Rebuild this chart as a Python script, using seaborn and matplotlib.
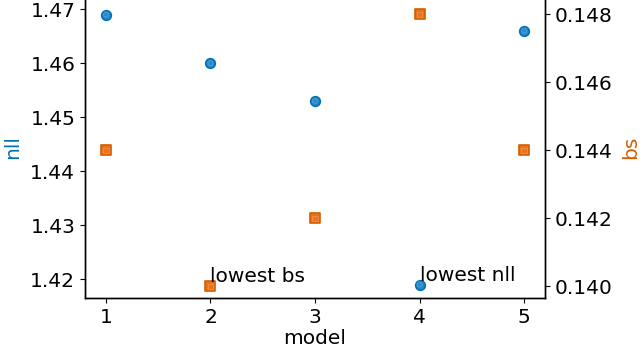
import matplotlib
matplotlib.use("Agg")
import matplotlib.pyplot as plt
import seaborn as sns
import pandas as pd

models = [1, 2, 3, 4, 5]
nll = [1.469, 1.460, 1.453, 1.419, 1.466]
bs = [0.144, 0.140, 0.142, 0.148, 0.144]
nll_ticks = [1.42, 1.43, 1.44, 1.45, 1.46, 1.47]
bs_ticks = [0.140, 0.142, 0.144, 0.146, 0.148]

sns.set_style("ticks")
plt.rcParams['font.family'] = ['DejaVu Sans']
plt.rcParams['text.color'] = 'black'
plt.rcParams['axes.labelcolor'] = 'black'
plt.rcParams['xtick.color'] = 'black'
plt.rcParams['ytick.color'] = 'black'

blue = "#0173B2"
orange = "#D55E00"

df = pd.DataFrame({"model": models, "nll": nll, "bs": bs})

fig = plt.figure(figsize=(6.4, 3.54), dpi=100)
h_frac = 298 / 354 + 0.01
ax1 = fig.add_axes([85/640, 1 - 298/354, 460/640, h_frac])
ax2 = ax1.twinx()

sns.scatterplot(data=df, x="model", y="nll", ax=ax1, marker="o", s=48,
                color="#2a86c8", edgecolor=blue, linewidth=1.2, zorder=3)
sns.scatterplot(data=df, x="model", y="nll", ax=ax1, marker="o", s=12,
                color="none", edgecolor="#4a9ad6", linewidth=0.8, zorder=4)
sns.scatterplot(data=df, x="model", y="bs", ax=ax2, marker="s", s=48,
                color="#e8731e", edgecolor=orange, linewidth=1.2, zorder=3)
sns.scatterplot(data=df, x="model", y="bs", ax=ax2, marker="s", s=14,
                color="none", edgecolor="#ef8a40", linewidth=0.8, zorder=4)

fs = 14.5
scale = h_frac / (298 / 354)
ax1.set_xlim(0.8, 5.2)
ax1.set_ylim(1.4165, 1.4165 + 0.0552 * scale)
ax2.set_ylim(0.13965, 0.13965 + 0.008765 * scale)

ax1.set_xticks(models)
ax1.set_yticks(nll_ticks)
ax2.set_yticks(bs_ticks)
ax1.set_yticklabels([f"{v:.2f}" for v in nll_ticks])
ax2.set_yticklabels([f"{v:.3f}" for v in bs_ticks])
ax1.tick_params(labelsize=fs, colors="black")
ax2.tick_params(labelsize=fs, colors="black")

ax1.set_xlabel("model", fontsize=fs, labelpad=2, color="black")
ax1.set_ylabel("nll", fontsize=fs, color=blue, labelpad=6)
ax2.set_ylabel("bs", fontsize=fs, color=orange, labelpad=6)

for ax in (ax1, ax2):
    for sp in ax.spines.values():
        sp.set_color("black")
        sp.set_linewidth(1.0)
    ax.spines["top"].set_visible(False)

ax2.text(models[1], bs[1], "lowest bs", fontsize=fs, ha="left", va="bottom", color="black")
ax1.text(models[3], nll[3], "lowest nll", fontsize=fs, ha="left", va="bottom", color="black")

fig.savefig("out.png", dpi=100)
